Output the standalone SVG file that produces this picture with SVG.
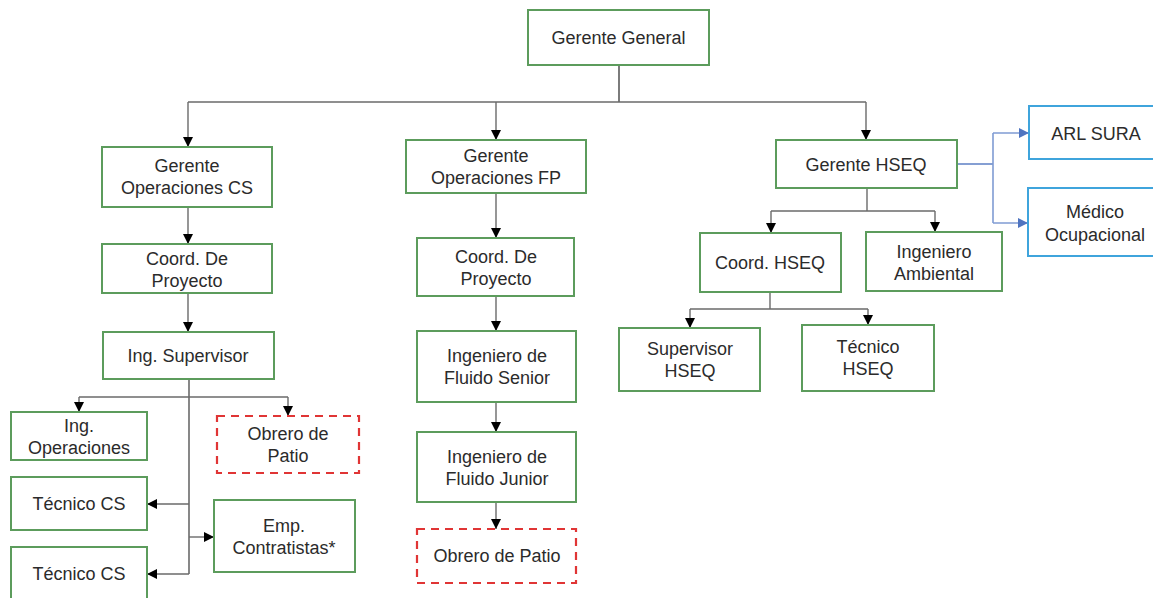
<svg xmlns="http://www.w3.org/2000/svg" width="1153" height="598" viewBox="0 0 1153 598">
  <style>
    .box { fill: #ffffff; stroke: #5c9c5c; stroke-width: 2; }
    .ext { fill: #ffffff; stroke: #3fa4dc; stroke-width: 2; }
    .opt { fill: #ffffff; stroke: #e03535; stroke-width: 2.2; stroke-dasharray: 8 6; }
    .lbl { font-family: "Liberation Sans", Arial, sans-serif; font-size: 18px; fill: #2b2b2b; text-anchor: middle; }
    .ln { fill: none; stroke: #6a6a6a; stroke-width: 1.4; }
    .lnb { fill: none; stroke: #7f9bd3; stroke-width: 1.6; }
  </style>
  <defs>
    <marker id="arr" markerUnits="userSpaceOnUse" markerWidth="10" markerHeight="10" refX="10" refY="5" orient="auto">
      <path d="M0,0 L10,5 L0,10 z" fill="#000000"/>
    </marker>
    <marker id="arrb" markerUnits="userSpaceOnUse" markerWidth="10" markerHeight="10" refX="10" refY="5" orient="auto">
      <path d="M0,0 L10,5 L0,10 z" fill="#4f74c0"/>
    </marker>
  </defs>
  <rect width="1153" height="598" fill="#ffffff"/>

  <!-- connectors -->
  <g id="connectors">
    <path class="ln" d="M619,65 V102" stroke-width="2" style="stroke:#444"/>
    <path class="ln" d="M188,102 H866"/>
    <path class="ln" d="M188,102 V147" marker-end="url(#arr)"/>
    <path class="ln" d="M496,102 V140" marker-end="url(#arr)"/>
    <path class="ln" d="M866,102 V140" marker-end="url(#arr)"/>

    <!-- CS branch -->
    <path class="ln" d="M188,207 V244" marker-end="url(#arr)"/>
    <path class="ln" d="M188,293 V332" marker-end="url(#arr)"/>
    <path class="ln" d="M189,379 V574" style="stroke:#555" stroke-width="1.8"/>
    <path class="ln" d="M79,397 H288"/>
    <path class="ln" d="M79,397 V412" marker-end="url(#arr)"/>
    <path class="ln" d="M288,397 V416" marker-end="url(#arr)"/>
    <path class="ln" d="M189,504 H147" marker-end="url(#arr)"/>
    <path class="ln" d="M189,537 H214" marker-end="url(#arr)"/>
    <path class="ln" d="M189,574 H147" marker-end="url(#arr)"/>

    <!-- FP branch -->
    <path class="ln" d="M496,193 V238" marker-end="url(#arr)"/>
    <path class="ln" d="M496,296 V331" marker-end="url(#arr)"/>
    <path class="ln" d="M496,402 V432" marker-end="url(#arr)"/>
    <path class="ln" d="M496,502 V529" marker-end="url(#arr)"/>

    <!-- HSEQ branch -->
    <path class="ln" d="M867,188 V211"/>
    <path class="ln" d="M771,211 H935"/>
    <path class="ln" d="M771,211 V233" marker-end="url(#arr)"/>
    <path class="ln" d="M935,211 V232" marker-end="url(#arr)"/>
    <path class="ln" d="M770,292 V309"/>
    <path class="ln" d="M690,309 H868"/>
    <path class="ln" d="M690,309 V328" marker-end="url(#arr)"/>
    <path class="ln" d="M868,309 V325" marker-end="url(#arr)"/>

    <!-- external support -->
    <path class="lnb" d="M957,164 H993" style="stroke:#5d7fc4"/>
    <path class="lnb" d="M993,133 V223"/>
    <path class="lnb" d="M993,133 H1029" marker-end="url(#arrb)"/>
    <path class="lnb" d="M993,223 H1028" marker-end="url(#arrb)"/>
  </g>

  <!-- nodes -->
  <g id="gerente-general">
    <rect class="box" x="528" y="10" width="181" height="55"/>
    <text class="lbl" x="618.5" y="44">Gerente General</text>
  </g>

  <g id="gerente-op-cs">
    <rect class="box" x="102" y="147" width="170" height="60"/>
    <text class="lbl" x="187" y="172">Gerente</text>
    <text class="lbl" x="187" y="194">Operaciones CS</text>
  </g>
  <g id="coord-proyecto-cs">
    <rect class="box" x="102" y="244" width="170" height="49"/>
    <text class="lbl" x="187" y="265">Coord. De</text>
    <text class="lbl" x="187" y="287">Proyecto</text>
  </g>
  <g id="ing-supervisor">
    <rect class="box" x="103" y="332" width="171" height="47"/>
    <text class="lbl" x="188" y="362">Ing. Supervisor</text>
  </g>
  <g id="ing-operaciones">
    <rect class="box" x="11" y="412" width="136" height="48"/>
    <text class="lbl" x="79" y="432">Ing.</text>
    <text class="lbl" x="79" y="454">Operaciones</text>
  </g>
  <g id="obrero-patio-cs">
    <rect class="opt" x="217" y="416" width="142" height="57"/>
    <text class="lbl" x="288" y="440">Obrero de</text>
    <text class="lbl" x="288" y="462">Patio</text>
  </g>
  <g id="tecnico-cs-1">
    <rect class="box" x="11" y="477" width="136" height="53"/>
    <text class="lbl" x="79" y="510">Técnico CS</text>
  </g>
  <g id="emp-contratistas">
    <rect class="box" x="214" y="500" width="141" height="72"/>
    <text class="lbl" x="284" y="532">Emp.</text>
    <text class="lbl" x="284" y="554">Contratistas*</text>
  </g>
  <g id="tecnico-cs-2">
    <rect class="box" x="11" y="547" width="136" height="60"/>
    <text class="lbl" x="79" y="580">Técnico CS</text>
  </g>

  <g id="gerente-op-fp">
    <rect class="box" x="406" y="140" width="180" height="53"/>
    <text class="lbl" x="496" y="162">Gerente</text>
    <text class="lbl" x="496" y="184">Operaciones FP</text>
  </g>
  <g id="coord-proyecto-fp">
    <rect class="box" x="417" y="238" width="157" height="58"/>
    <text class="lbl" x="496" y="263">Coord. De</text>
    <text class="lbl" x="496" y="285">Proyecto</text>
  </g>
  <g id="ing-fluido-senior">
    <rect class="box" x="417" y="331" width="159" height="71"/>
    <text class="lbl" x="497" y="362">Ingeniero de</text>
    <text class="lbl" x="497" y="384">Fluido Senior</text>
  </g>
  <g id="ing-fluido-junior">
    <rect class="box" x="417" y="432" width="159" height="70"/>
    <text class="lbl" x="497" y="463">Ingeniero de</text>
    <text class="lbl" x="497" y="485">Fluido Junior</text>
  </g>
  <g id="obrero-patio-fp">
    <rect class="opt" x="417" y="529" width="159" height="54"/>
    <text class="lbl" x="497" y="562">Obrero de Patio</text>
  </g>

  <g id="gerente-hseq">
    <rect class="box" x="776" y="140" width="181" height="48"/>
    <text class="lbl" x="866" y="171">Gerente HSEQ</text>
  </g>
  <g id="coord-hseq">
    <rect class="box" x="700" y="233" width="141" height="59"/>
    <text class="lbl" x="770" y="269">Coord. HSEQ</text>
  </g>
  <g id="ing-ambiental">
    <rect class="box" x="866" y="232" width="136" height="59"/>
    <text class="lbl" x="934" y="258">Ingeniero</text>
    <text class="lbl" x="934" y="280">Ambiental</text>
  </g>
  <g id="supervisor-hseq">
    <rect class="box" x="619" y="328" width="141" height="63"/>
    <text class="lbl" x="690" y="355">Supervisor</text>
    <text class="lbl" x="690" y="377">HSEQ</text>
  </g>
  <g id="tecnico-hseq">
    <rect class="box" x="802" y="325" width="132" height="66"/>
    <text class="lbl" x="868" y="353">Técnico</text>
    <text class="lbl" x="868" y="375">HSEQ</text>
  </g>

  <g id="arl-sura">
    <rect class="ext" x="1029" y="106" width="134" height="53"/>
    <text class="lbl" x="1096" y="140">ARL SURA</text>
  </g>
  <g id="medico-ocupacional">
    <rect class="ext" x="1028" y="188" width="135" height="68"/>
    <text class="lbl" x="1095" y="218">Médico</text>
    <text class="lbl" x="1095" y="241">Ocupacional</text>
  </g>
</svg>
